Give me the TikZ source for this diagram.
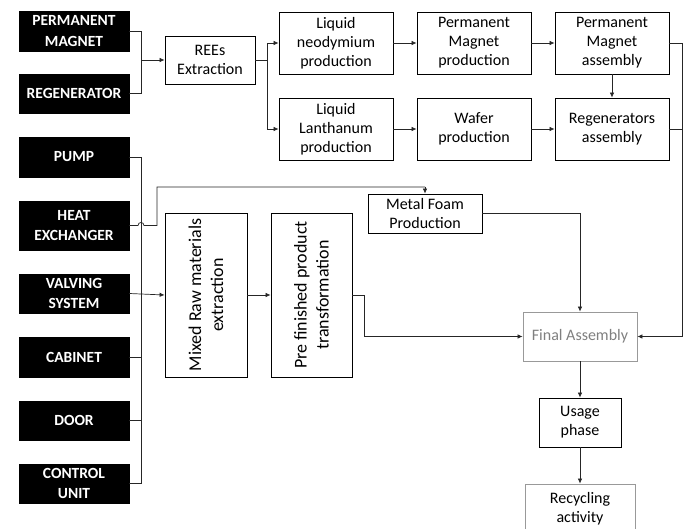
\documentclass[tikz,border=0pt]{standalone}
\usepackage{fontspec}
\setmainfont{Carlito}
\usetikzlibrary{arrows.meta}
\begin{document}
\begin{tikzpicture}[x=1pt,y=-1pt,
  blk/.style={fill=black, draw=black, text=white, font=\bfseries\fontsize{15.5}{20.5}\selectfont, minimum width=110, align=center, inner sep=0},
  box/.style={draw=black, line width=0.8pt, fill=white, font=\fontsize{16}{19}\selectfont, align=center, inner sep=0},
  graybox/.style={box, draw=black!40},
  conn/.style={line width=0.7pt, draw=black!85},
  arr/.style={conn, -{Latex[length=5pt,width=4.5pt]}}]
\useasboundingbox (0,0) rectangle (688,529);
% black component boxes
\node[blk, minimum height=40] (pm) at (74,31) {PERMANENT\\MAGNET};
\node[blk, minimum height=39] (reg) at (74,93.5) {REGENERATOR};
\node[blk, minimum height=40] (pump) at (74,157) {PUMP};
\node[blk, minimum height=49] (hx) at (74,225.5) {HEAT\\EXCHANGER};
\node[blk, minimum height=39] (valve) at (74,293.5) {VALVING\\SYSTEM};
\node[blk, minimum height=40] (cab) at (74,357) {CABINET};
\node[blk, minimum height=39] (door) at (74,420.5) {DOOR};
\node[blk, minimum height=39] (cu) at (74,483.5) {CONTROL\\UNIT};
% process boxes
\node[box, minimum width=90, minimum height=48] (rees) at (210,60) {REEs\\Extraction};
\node[box, minimum width=114, minimum height=62] (lnd) at (336,43) {Liquid\\neodymium\\production};
\node[box, minimum width=114, minimum height=62] (pmp) at (474,43) {Permanent\\Magnet\\production};
\node[box, minimum width=114, minimum height=62] (pma) at (612,43) {Permanent\\Magnet\\assembly};
\node[box, minimum width=114, minimum height=62] (lla) at (336,129) {Liquid\\Lanthanum\\production};
\node[box, minimum width=114, minimum height=62] (wafer) at (474,129) {Wafer\\production};
\node[box, minimum width=114, minimum height=62] (rega) at (612,129) {Regenerators\\assembly};
\node[box, minimum width=114, minimum height=39] (mf) at (425,213.5) {Metal Foam\\Production};
\node[box, minimum width=82, minimum height=164] (mixed) at (206,295) {};
\node[rotate=90, align=center, font=\fontsize{18}{22}\selectfont] (mixedt) at (mixed.center) {Mixed Raw materials\\extraction};
\node[box, minimum width=81, minimum height=164] (pre) at (311.5,295) {};
\node[rotate=90, align=center, font=\fontsize{18}{22}\selectfont] (pret) at (pre.center) {Pre finished product\\transformation};
\node[graybox, text=black!50, minimum width=114, minimum height=49] (fa) at (580,336.5) {Final Assembly};
\node[box, minimum width=82, minimum height=49] (usage) at (580,422.5) {Usage\\phase};
\node[graybox, minimum width=110, minimum height=49] (recyc) at (580,508.5) {Recycling\\activity};
% junction coordinates
\coordinate (j1) at (141,60);
\coordinate (j2) at (267,60);
\coordinate (j3) at (141,293.5);
\coordinate (j4) at (682,336.5);
\coordinate (hxup) at (157,187);
\coordinate (mftop) at (425,187);
\coordinate (prej) at (364,336.5);
% connectors
\draw[conn] (pm.east) -| (j1);
\draw[conn] (reg.east) -| (j1);
\draw[arr] (j1) -- (rees.west);
\draw[conn] (rees.east) -- (j2);
\draw[arr] (j2) |- (lnd.west);
\draw[arr] (j2) |- (lla.west);
\draw[arr] (lnd) -- (pmp);
\draw[arr] (pmp) -- (pma);
\draw[arr] (lla) -- (wafer);
\draw[arr] (wafer) -- (rega);
\draw[arr] (pma) -- (rega);
\draw[conn] (pma.east) -| (j4);
\draw[conn] (rega.east) -| (j4);
\draw[arr] (j4) -- (fa.east);
\draw[conn] (pump.east) -| (141,483.5) -- (cu.east);
\draw[conn] (cab.east) -- (141,357);
\draw[conn] (door.east) -- (141,420.5);
\draw[arr] (valve.east) -- (mixed.west);
\draw[conn] (hx.east) -- (138,225.5) .. controls (138,221.5) and (144,221.5) .. (144,225.5) -| (hxup) -- (mftop);
\draw[arr] (mftop) -- (mf.north);
\draw[arr] (mixed) -- (pre);
\draw[conn] (pre.east) -- (364,295) -- (prej);
\draw[arr] (prej) -- (fa.west);
\draw[arr] (mf.east) -| (fa.north);
\draw[arr] (fa) -- (usage);
\draw[arr] (usage) -- (recyc);
\end{tikzpicture}
\end{document}
